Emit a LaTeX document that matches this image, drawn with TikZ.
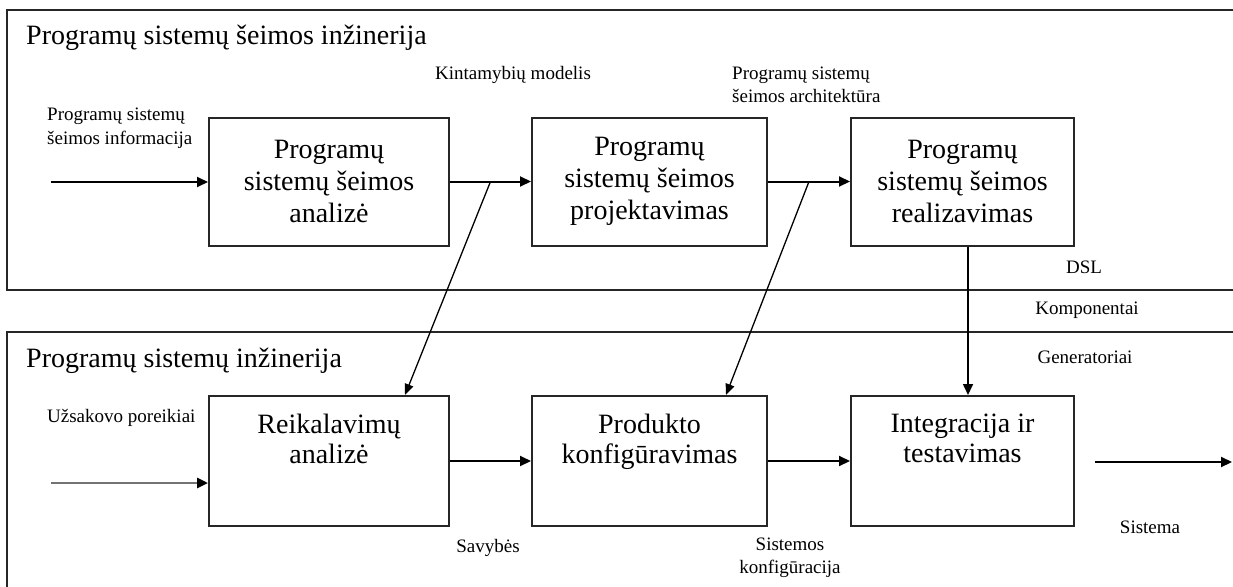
\documentclass[tikz,border=0pt]{standalone}
\usepackage{fontspec}
\setmainfont{Liberation Serif}
\usetikzlibrary{arrows.meta,calc}
\begin{document}
\begin{tikzpicture}[x=1pt,y=-1pt,
  frame/.style={draw=black!85, line width=2pt},
  stage/.style={draw=black!85, line width=2pt, inner sep=0pt, align=center,
    font=\fontsize{28}{32}\selectfont},
  stagetext/.style={inner sep=0pt, align=center, anchor=north,
    font=\fontsize{28}{30}\selectfont},
  flow/.style={line width=2pt, -{Triangle[length=11pt,width=10pt]}},
  feed/.style={line width=1.3pt, -{Triangle[length=11pt,width=9pt]}},
  note/.style={inner sep=0pt, font=\fontsize{19}{23.5}\selectfont},
  heading/.style={inner sep=0pt, anchor=base west, font=\fontsize{28}{32}\selectfont}]
\useasboundingbox (0,0) rectangle (1233,586);
\clip (0,0) rectangle (1233,586);
\fill[white] (0,0) rectangle (1233,586);

% the two process frames, running off the right and bottom edges
\draw[frame] (7,10) rectangle (1260,290);
\draw[frame] (7,332) rectangle (1260,620);
\node[heading] (t1) at (26,45) {Programų sistemų šeimos inžinerija};
\node[heading] (t2) at (26,367) {Programų sistemų inžinerija};

% domain engineering stages
\node[stage, minimum width=240pt, minimum height=128pt] (fa) at (329,181.5)
  {Programų\\sistemų šeimos\\analizė};
\node[stage, minimum width=235pt, minimum height=128pt] (fb) at (649.5,181.5)
  {Programų\\sistemų šeimos\\projektavimas};
\node[stage, minimum width=223pt, minimum height=128pt] (fc) at (962.5,181.5)
  {Programų\\sistemų šeimos\\realizavimas};

% application engineering stages (text at the top)
\node[stage, minimum width=240pt, minimum height=130pt] (sa) at (329,461) {};
\node[stage, minimum width=235pt, minimum height=130pt] (sb) at (649.5,461) {};
\node[stage, minimum width=223pt, minimum height=130pt] (sc) at (962.5,461) {};
\node[stagetext] (sat) at ($(sa.north)+(0,19)$) {Reikalavimų\\analizė};
\node[stagetext] (sbt) at ($(sb.north)+(0,19)$) {Produkto\\konfigūravimas};
\node[stagetext] (sct) at ($(sc.north)+(0,19)$) {Integracija ir\\testavimas};

% labels
\node[note, anchor=west] (lk) at (435,75) {Kintamybių modelis};
\node[note, anchor=west, align=left] (li) at (47,128) {Programų sistemų\\šeimos informacija};
\node[note, anchor=west, align=left] (la) at (732,85) {Programų sistemų\\šeimos architektūra};
\node[note] (ld) at (1084,267) {DSL};
\node[note] (lc) at (1087,310) {Komponentai};
\node[note] (lg) at (1085,357) {Generatoriai};
\node[note, anchor=west] (lu) at (47,418) {Užsakovo poreikiai};
\node[note] (ls) at (488,548) {Savybės};
\node[note, align=center] (lsk) at (790,558) {Sistemos\\konfigūracija};
\node[note] (lsi) at (1150,527) {Sistema};

% free ends and branch points
\coordinate (inf) at (51,182);
\coordinate (inu) at (51,483);
\coordinate (outs) at (1095,462);
\coordinate (oute) at (1232,462);
\coordinate (m1) at ($(fa.east)!0.5!(fb.west)$);
\coordinate (m2) at ($(fb.east)!0.5!(fc.west)$);
\coordinate (d1) at (405,0);
\coordinate (d2) at (726,0);
\coordinate (v3) at (968,0);

% connectors
\draw[flow] (inf) -- (inf -| fa.west);
\draw[flow] (fa.east) -- (fb.west);
\draw[flow] (fb.east) -- (fc.west);
\draw[feed] (m1) -- (sa.north -| d1);
\draw[feed] (m2) -- (sb.north -| d2);
\draw[flow, line width=1.6pt] (fc.south -| v3) -- (sc.north -| v3);
\draw[line width=2.6pt, draw=black!55, -{Triangle[length=11pt,width=10pt,color=black]}]
  (inu) -- (inu -| sa.west);
\draw[flow] (sa.east) -- (sb.west);
\draw[flow] (sb.east) -- (sc.west);
\draw[flow] (outs) -- (oute);
\end{tikzpicture}
\end{document}
